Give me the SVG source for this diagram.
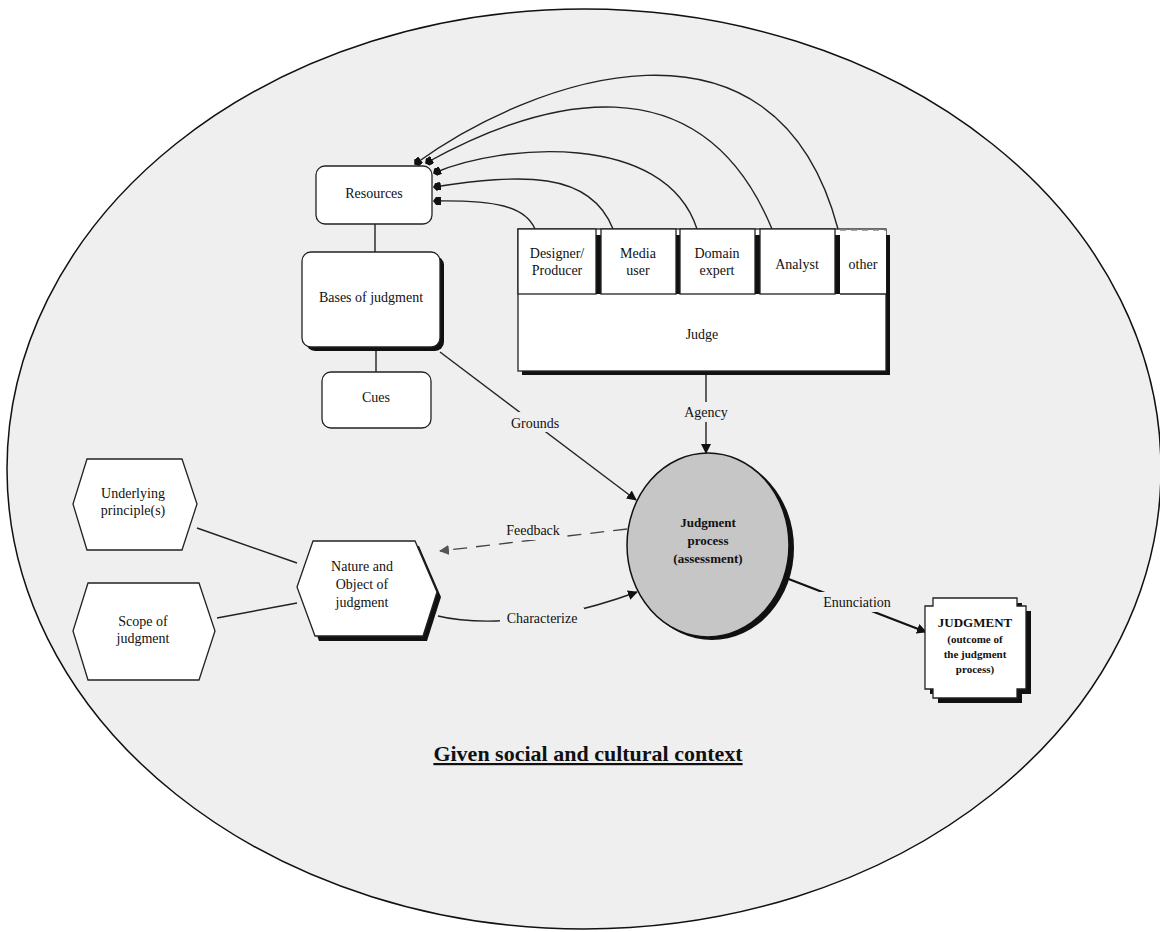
<svg xmlns="http://www.w3.org/2000/svg" width="1160" height="932" viewBox="0 0 1160 932">
<defs>
<style>
.t{font-family:"Liberation Serif","Times New Roman",serif;font-size:14px;fill:#111;text-anchor:middle}
.tb{font-family:"Liberation Serif","Times New Roman",serif;font-size:13px;font-weight:bold;fill:#111;text-anchor:middle}
.box{fill:#fff;stroke:#222;stroke-width:1.3}
.sh{fill:#111}
.ln{fill:none;stroke:#222;stroke-width:1.4}
.lbl{fill:#efefef}
</style>
<marker id="tri" viewBox="0 0 10 10" refX="9" refY="5" markerWidth="10" markerHeight="10" markerUnits="userSpaceOnUse" orient="auto">
<path d="M0,0 L10,5 L0,10 z" fill="#111"/>
</marker>
<marker id="trig" viewBox="0 0 10 10" refX="9" refY="5" markerWidth="10" markerHeight="10" markerUnits="userSpaceOnUse" orient="auto">
<path d="M0,0 L10,5 L0,10 z" fill="#555"/>
</marker>
<marker id="blk" viewBox="0 0 8 8" refX="7" refY="4" markerWidth="8" markerHeight="8" markerUnits="userSpaceOnUse" orient="auto">
<path d="M0,0 L5,0 L8,4 L5,8 L0,8 z" fill="#111"/>
</marker>
</defs>
<rect width="1160" height="932" fill="#fff"/>
<g id="context">
<ellipse cx="584" cy="469" rx="577" ry="460" fill="#efefef" stroke="#111" stroke-width="1.5"/>
<text x="588" y="761" style="font-family:'Liberation Serif','Times New Roman',serif;font-size:22px;font-weight:bold;fill:#111;text-anchor:middle;text-decoration:underline">Given social and cultural context</text>
</g>
<g id="connectors">
<path class="ln" d="M535,229 C525,206 495,200 434,201" marker-end="url(#blk)"/>
<path class="ln" d="M613,229 C590,170 520,174 434,187" marker-end="url(#blk)"/>
<path class="ln" d="M697,229 C665,130 500,144 434,173" marker-end="url(#blk)"/>
<path class="ln" d="M772,229 C700,55 540,100 426,163" marker-end="url(#blk)"/>
<path class="ln" d="M838,229 C775,-10 530,80 415,164" marker-end="url(#blk)"/>
<line class="ln" x1="375" y1="224" x2="375" y2="252"/>
<line class="ln" x1="376" y1="351" x2="376" y2="372"/>
<line class="ln" x1="440" y1="352" x2="636" y2="500" marker-end="url(#tri)"/>
<line class="ln" x1="706" y1="374" x2="706" y2="453" marker-end="url(#tri)"/>
<line x1="627" y1="529" x2="440" y2="551" stroke="#444" stroke-width="1.3" stroke-dasharray="14,9" marker-end="url(#trig)"/>
<path class="ln" d="M438,616 C470,624 520,622 560,614 C590,608 615,600 637,592" marker-end="url(#tri)"/>
<line x1="786" y1="578" x2="926" y2="632" stroke="#111" stroke-width="2.2" marker-end="url(#tri)"/>
<line class="ln" x1="197" y1="528" x2="297" y2="563"/>
<line class="ln" x1="217" y1="618" x2="297" y2="603"/>
<rect class="lbl" x="505" y="412" width="60" height="20"/>
<text class="t" x="535" y="428">Grounds</text>
<rect class="lbl" x="677" y="402" width="58" height="20"/>
<text class="t" x="706" y="417">Agency</text>
<rect class="lbl" x="496" y="520" width="70" height="20"/>
<text class="t" x="533" y="535">Feedback</text>
<rect class="lbl" x="500" y="608" width="84" height="20"/>
<text class="t" x="542" y="623">Characterize</text>
<rect class="lbl" x="815" y="592" width="84" height="20"/>
<text class="t" x="857" y="607">Enunciation</text>
</g>
<g id="resources">
<rect class="box" x="316" y="166" width="116" height="58" rx="9"/>
<text class="t" x="374" y="198">Resources</text>
</g>
<g id="bases">
<rect class="sh" x="306" y="256" width="138" height="95" rx="9"/>
<rect class="box" x="302" y="252" width="138" height="95" rx="9"/>
<text class="t" x="371" y="302">Bases of judgment</text>
</g>
<g id="cues">
<rect class="box" x="322" y="372" width="109" height="56" rx="9"/>
<text class="t" x="376" y="402">Cues</text>
</g>
<g id="judge">
<rect class="sh" x="522" y="235" width="368" height="140"/>
<rect class="box" x="518" y="229" width="368" height="142"/>
<text class="t" x="702" y="339">Judge</text>
</g>
<g id="designer">
<rect class="sh" x="522" y="235" width="79" height="59"/>
<rect class="box" x="518" y="229" width="78" height="65"/>
<text class="t" x="557" y="258">Designer/</text>
<text class="t" x="557" y="275">Producer</text>
</g>
<g id="media-user">
<rect class="sh" x="605" y="235" width="75" height="59"/>
<rect class="box" x="601" y="229" width="75" height="65"/>
<text class="t" x="638" y="258">Media</text>
<text class="t" x="638" y="275">user</text>
</g>
<g id="domain-expert">
<rect class="sh" x="684" y="235" width="76" height="59"/>
<rect class="box" x="680" y="229" width="75" height="65"/>
<text class="t" x="717" y="258">Domain</text>
<text class="t" x="717" y="275">expert</text>
</g>
<g id="analyst">
<rect class="sh" x="764" y="235" width="76" height="59"/>
<rect class="box" x="760" y="229" width="75" height="65"/>
<text class="t" x="797" y="269">Analyst</text>
</g>
<g id="other">
<rect x="840" y="230" width="46" height="64" fill="#fff"/>
<line x1="840" y1="230" x2="886" y2="230" stroke="#888" stroke-width="1.3" stroke-dasharray="6,5"/>
<line x1="840" y1="294" x2="886" y2="294" stroke="#222" stroke-width="1.3"/>
<text class="t" x="863" y="269">other</text>
</g>
<g id="judgment-process">
<ellipse cx="712" cy="548" rx="82" ry="92" fill="#111"/>
<ellipse cx="708" cy="545" rx="81" ry="92" fill="#c6c6c6" stroke="#111" stroke-width="1.5"/>
<text class="tb" x="708" y="527">Judgment</text>
<text class="tb" x="708" y="545">process</text>
<text class="tb" x="708" y="563">(assessment)</text>
</g>
<g id="underlying">
<polygon class="box" points="87,459 182,459 197,504 182,550 87,550 73,504"/>
<text class="t" x="133" y="498">Underlying</text>
<text class="t" x="133" y="515">principle(s)</text>
</g>
<g id="scope">
<polygon class="box" points="88,583 199,583 215,631 199,680 88,680 73,631"/>
<text class="t" x="143" y="626">Scope of</text>
<text class="t" x="143" y="643">judgment</text>
</g>
<g id="nature">
<polygon class="sh" points="317,546 419,546 441,597 427,641 319,641 301,591"/>
<polygon class="box" points="313,541 415,541 437,592 423,636 315,636 297,587"/>
<text class="t" x="362" y="571">Nature and</text>
<text class="t" x="362" y="589">Object of</text>
<text class="t" x="362" y="607">judgment</text>
</g>
<g id="judgment-outcome">
<path class="sh" d="M938,603 H1022 V611 H1031 V694 H1022 V703 H938 V694 H930 V611 H938 Z"/>
<path class="box" d="M933,598 H1017 V606 H1026 V689 H1017 V698 H933 V689 H925 V606 H933 Z"/>
<text class="tb" x="975" y="627">JUDGMENT</text>
<text class="tb" x="975" y="643" style="font-size:11px">(outcome of</text>
<text class="tb" x="975" y="658" style="font-size:11px">the judgment</text>
<text class="tb" x="975" y="673" style="font-size:11px">process)</text>
</g>
</svg>
